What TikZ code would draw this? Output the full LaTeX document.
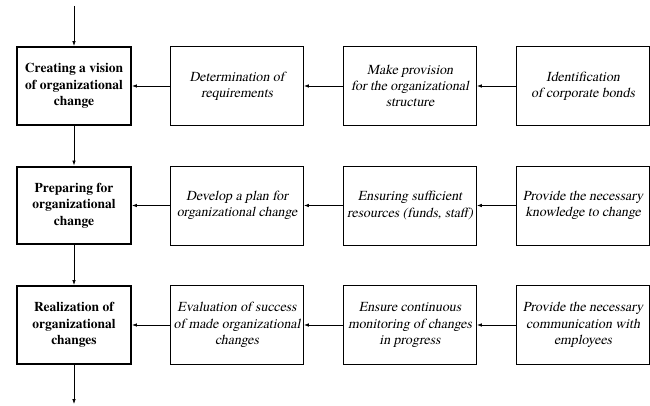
\documentclass[tikz,border=0pt]{standalone}
\usepackage{fontspec}
\setmainfont{TeX Gyre Termes}[ItalicFont=TeX Gyre Termes,ItalicFeatures={FakeSlant=0.21}]
\usetikzlibrary{arrows.meta}
\pgfdeclarelayer{bg}
\pgfsetlayers{bg,main}

\begin{document}
\begin{tikzpicture}[x=1pt,y=-1pt,
        stage/.style={draw,line width=2.4pt,minimum width=113.5pt,minimum height=77.5pt,inner sep=0pt,align=center,font=\fontsize{13.5}{16.3}\selectfont\bfseries},
        task/.style={draw,line width=0.8pt,minimum width=133pt,minimum height=79pt,inner sep=0pt,align=center,font=\fontsize{13.8}{16.3}\selectfont\itshape},
        flow/.style={-{Latex[length=5pt,width=3.6pt]},line width=0.8pt}]
        \useasboundingbox (0,0) rectangle (650,406);
        \coordinate (c0) at (74, 6);
        \coordinate (c1) at (74, 404);
        \node (v0) [stage] at (74, 86) {Creating a vision\\of organizational\\change};
        \node (v1) [task] at (237, 86) {Determination of\\requirements};
        \node (v2) [task] at (410, 86) {Make provision\\for the organizational\\structure};
        \node (v3) [task] at (583, 86) {Identification\\of corporate bonds};
        \node (v4) [stage] at (74, 205.5) {Preparing for\\organizational\\change};
        \node (v5) [task] at (237, 205.5) {Develop a plan for\\organizational change};
        \node (v6) [task] at (410, 205.5) {Ensuring sufficient\\resources (funds, staff)};
        \node (v7) [task] at (583, 205.5) {Provide the necessary\\knowledge to change};
        \node (v8) [stage] at (74, 325) {Realization of\\organizational\\changes};
        \node (v9) [task] at (237, 325) {Evaluation of success\\of made organizational\\changes};
        \node (v10) [task] at (410, 325) {Ensure continuous\\monitoring of changes\\in progress};
        \node (v11) [task] at (583, 325) {Provide the necessary\\communication with\\employees};
        \begin{pgfonlayer}{bg}
                \draw (c0) edge [flow] (v0);
                \draw (v0) edge [flow] (v4);
                \draw (v4) edge [flow] (v8);
                \draw (v8) edge [flow] (c1);
                \draw (v1) edge [flow] (v0);
                \draw (v2) edge [flow] (v1);
                \draw (v3) edge [flow] (v2);
                \draw (v5) edge [flow] (v4);
                \draw (v6) edge [flow] (v5);
                \draw (v7) edge [flow] (v6);
                \draw (v9) edge [flow] (v8);
                \draw (v10) edge [flow] (v9);
                \draw (v11) edge [flow] (v10);
        \end{pgfonlayer}
\end{tikzpicture}
\end{document}
